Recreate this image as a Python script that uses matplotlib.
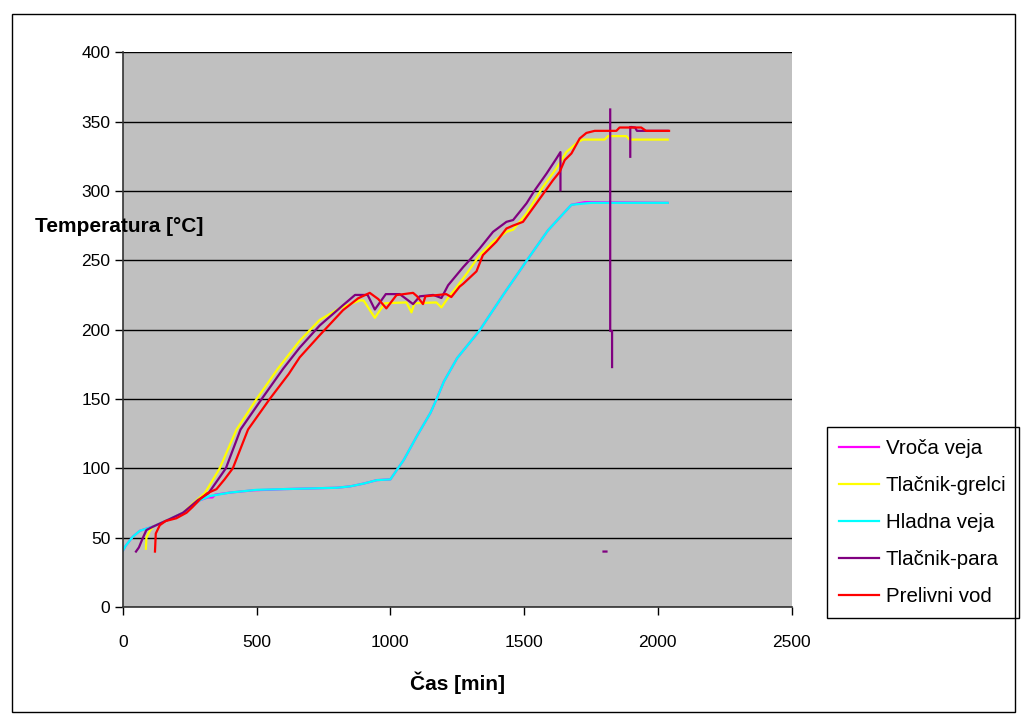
import numpy as np
import matplotlib
matplotlib.use("Agg")
import matplotlib.pyplot as plt
from matplotlib.patches import Rectangle

plt.rcParams['font.family'] = ['Liberation Sans', 'DejaVu Sans']

nan = np.nan

# Measured temperatures (time in min, temperature in °C); nan breaks a line
vroca_t = [0, 10, 37, 64, 113, 176, 225, 288, 318, 335, 345, 400, 490, 540, 600, 700, 800, 850, 900,
           950, 1000, 1050, 1100, 1150, 1172, 1200, 1250, 1334, 1420, 1509, 1589, 1677, 1727, 1751, 2037]
vroca_T = [40.6, 44, 50.7, 55, 58, 63.5, 68, 77, 79, 79, 81, 82.5, 84.2, 84.5, 85, 85.5, 86, 87, 89,
           91.5, 92, 106, 123.5, 140, 149.5, 162.5, 179.5, 199.5, 224.5, 249.5, 271.5, 290, 291.9, 291.9, 291.4]

grelci_t = [86, 88, 101, 113, 176, 225, 270, 306, 362, 425, 500, 580, 661, 736, 811, 886, 900, 942, 979,
            1060, 1079, 1090, 1172, 1191, 1216, 1247, 1284, 1334, 1384, 1434, 1459, 1509, 1571, 1620,
            1658, 1701, 1720, 1801, 1814, 1882, 1894, 2037]
grelci_T = [42, 50, 55, 58, 63.5, 68, 76, 82, 100, 128, 150, 172, 192, 207, 215.5, 221, 221, 208.5, 219,
            219.6, 212.4, 219, 219.6, 216, 223, 230.4, 240, 253.7, 263.3, 270.5, 272, 283.7, 303, 316,
            328, 335.3, 337, 337, 339.5, 339.5, 337, 337]

hladna_t = [0, 10, 37, 64, 113, 176, 225, 288, 325, 400, 500, 600, 700, 800, 850, 900, 950, 1000, 1050,
            1100, 1150, 1172, 1200, 1250, 1334, 1420, 1509, 1589, 1677, 1751, 2037]
hladna_T = [40.6, 44, 50.7, 55, 58, 63.5, 68, 77, 80, 82.5, 84.5, 85, 85.5, 86, 87, 89, 91.5, 92, 106,
            123.5, 140, 149.5, 162.5, 179.5, 199.5, 224.5, 249.5, 271.5, 290, 291.4, 291.4]

para_t = [49, 60, 75, 88, 113, 176, 225, 280, 320, 385, 440, 519, 600, 661, 736, 823, 868, 886, 915,
          942, 983, 1035, 1060, 1085, 1110, 1160, 1191, 1216, 1272, 1291, 1334, 1384, 1434, 1459, 1509,
          1540, 1584, 1621, 1636, 1636, nan,
          1797, 1808, nan,
          1822, 1822, 1829, 1829, nan,
          1897, 1897, nan,
          1903, 1915, 1922, 2037]
para_T = [40, 43, 50, 55.5, 58, 63.5, 68, 77, 82, 100, 128, 150, 172, 187, 203, 217.6, 225, 225, 225,
          214.5, 225.6, 225.6, 222, 218.4, 224, 225, 222.8, 232, 245, 249, 258.5, 270.5, 277.7, 279, 291,
          300.5, 312.5, 323.4, 328, 300.5, nan,
          40, 40, nan,
          358.7, 199, 199, 173, nan,
          346, 324.6, nan,
          346, 345.7, 343.3, 343.3]

prelivni_t = [120, 123, 138, 160, 200, 238, 260, 290, 315, 350, 380, 411, 468, 549, 620, 661, 736, 823,
              879, 923, 955, 985, 1023, 1085, 1100, 1122, 1131, 1209, 1228, 1259, 1272, 1322, 1346, 1396,
              1434, 1459, 1496, 1546, 1608, 1633, 1652, 1677, 1708, 1733, 1764, 1845, 1857, 1938, 1956, 2042]
prelivni_T = [40, 53, 59, 62, 64, 68, 72, 78, 82, 85, 92, 100, 128, 150, 168, 180, 196, 214,
              222.5, 226.5, 222, 215.3, 224.9, 226.5, 224, 218.4, 224, 225.6, 223.5, 231, 233, 242, 253.7, 263.3,
              272.9, 275, 277.7, 291, 307.7, 313.7, 322.2, 327, 337.8, 341.8, 343.3, 343.3, 345.7, 345.7, 343.3, 343.3]

series = [
    ("Vroča veja", vroca_t, vroca_T, "#FF00FF"),
    ("Tlačnik-grelci", grelci_t, grelci_T, "#FFFF00"),
    ("Hladna veja", hladna_t, hladna_T, "#00FFFF"),
    ("Tlačnik-para", para_t, para_T, "#800080"),
    ("Prelivni vod", prelivni_t, prelivni_T, "#FF0000"),
]

fig = plt.figure(figsize=(10.24, 7.15), dpi=100)
ax = fig.add_axes([0.120, 0.151, 0.653, 0.776])
ax.set_facecolor("#C0C0C0")

for name, t, T, col in series:
    ax.plot(t, T, color=col, linewidth=1.6, label=name)

ax.set_xlim(0, 2500)
ax.set_ylim(0, 400)
ax.set_xticks(np.arange(0, 2501, 500))
ax.set_yticks(np.arange(0, 401, 50))
ax.yaxis.grid(True, color="black", linewidth=1.0)
ax.set_axisbelow(True)

for side in ("top", "right"):
    ax.spines[side].set_visible(False)
for side in ("left", "bottom"):
    ax.spines[side].set_color("#333333")
    ax.spines[side].set_linewidth(1.2)

ax.tick_params(axis="x", direction="out", length=6, width=1, pad=14, labelsize=12.5)
ax.tick_params(axis="y", direction="out", length=6, width=1, pad=3, labelsize=12.5)

fig.text(35 / 1024, 1 - 226 / 715, "Temperatura [°C]", fontsize=15, fontweight="bold",
         ha="left", va="center")
fig.text(458 / 1024, 1 - 683 / 715, "Čas [min]", fontsize=15, fontweight="bold",
         ha="center", va="center")

leg = ax.legend(loc="upper left", bbox_to_anchor=(827 / 1024, 1 - 427 / 715),
                bbox_transform=fig.transFigure, borderaxespad=0, fontsize=14.8, frameon=True,
                fancybox=False, edgecolor="black", facecolor="white", framealpha=1,
                handlelength=1.95, handletextpad=0.3, labelspacing=0.87, borderpad=0.6)
leg.get_frame().set_linewidth(1.0)
for line in leg.get_lines():
    line.set_linewidth(1.6)

# outer frame around the whole chart
fig.patches.append(Rectangle((12 / 1024, 0.004), 1003 / 1024, 1 - 14 / 715 - 0.004,
                             transform=fig.transFigure, fill=False, edgecolor="black",
                             linewidth=1.0))

fig.savefig("out.png", dpi=100, facecolor="white")
